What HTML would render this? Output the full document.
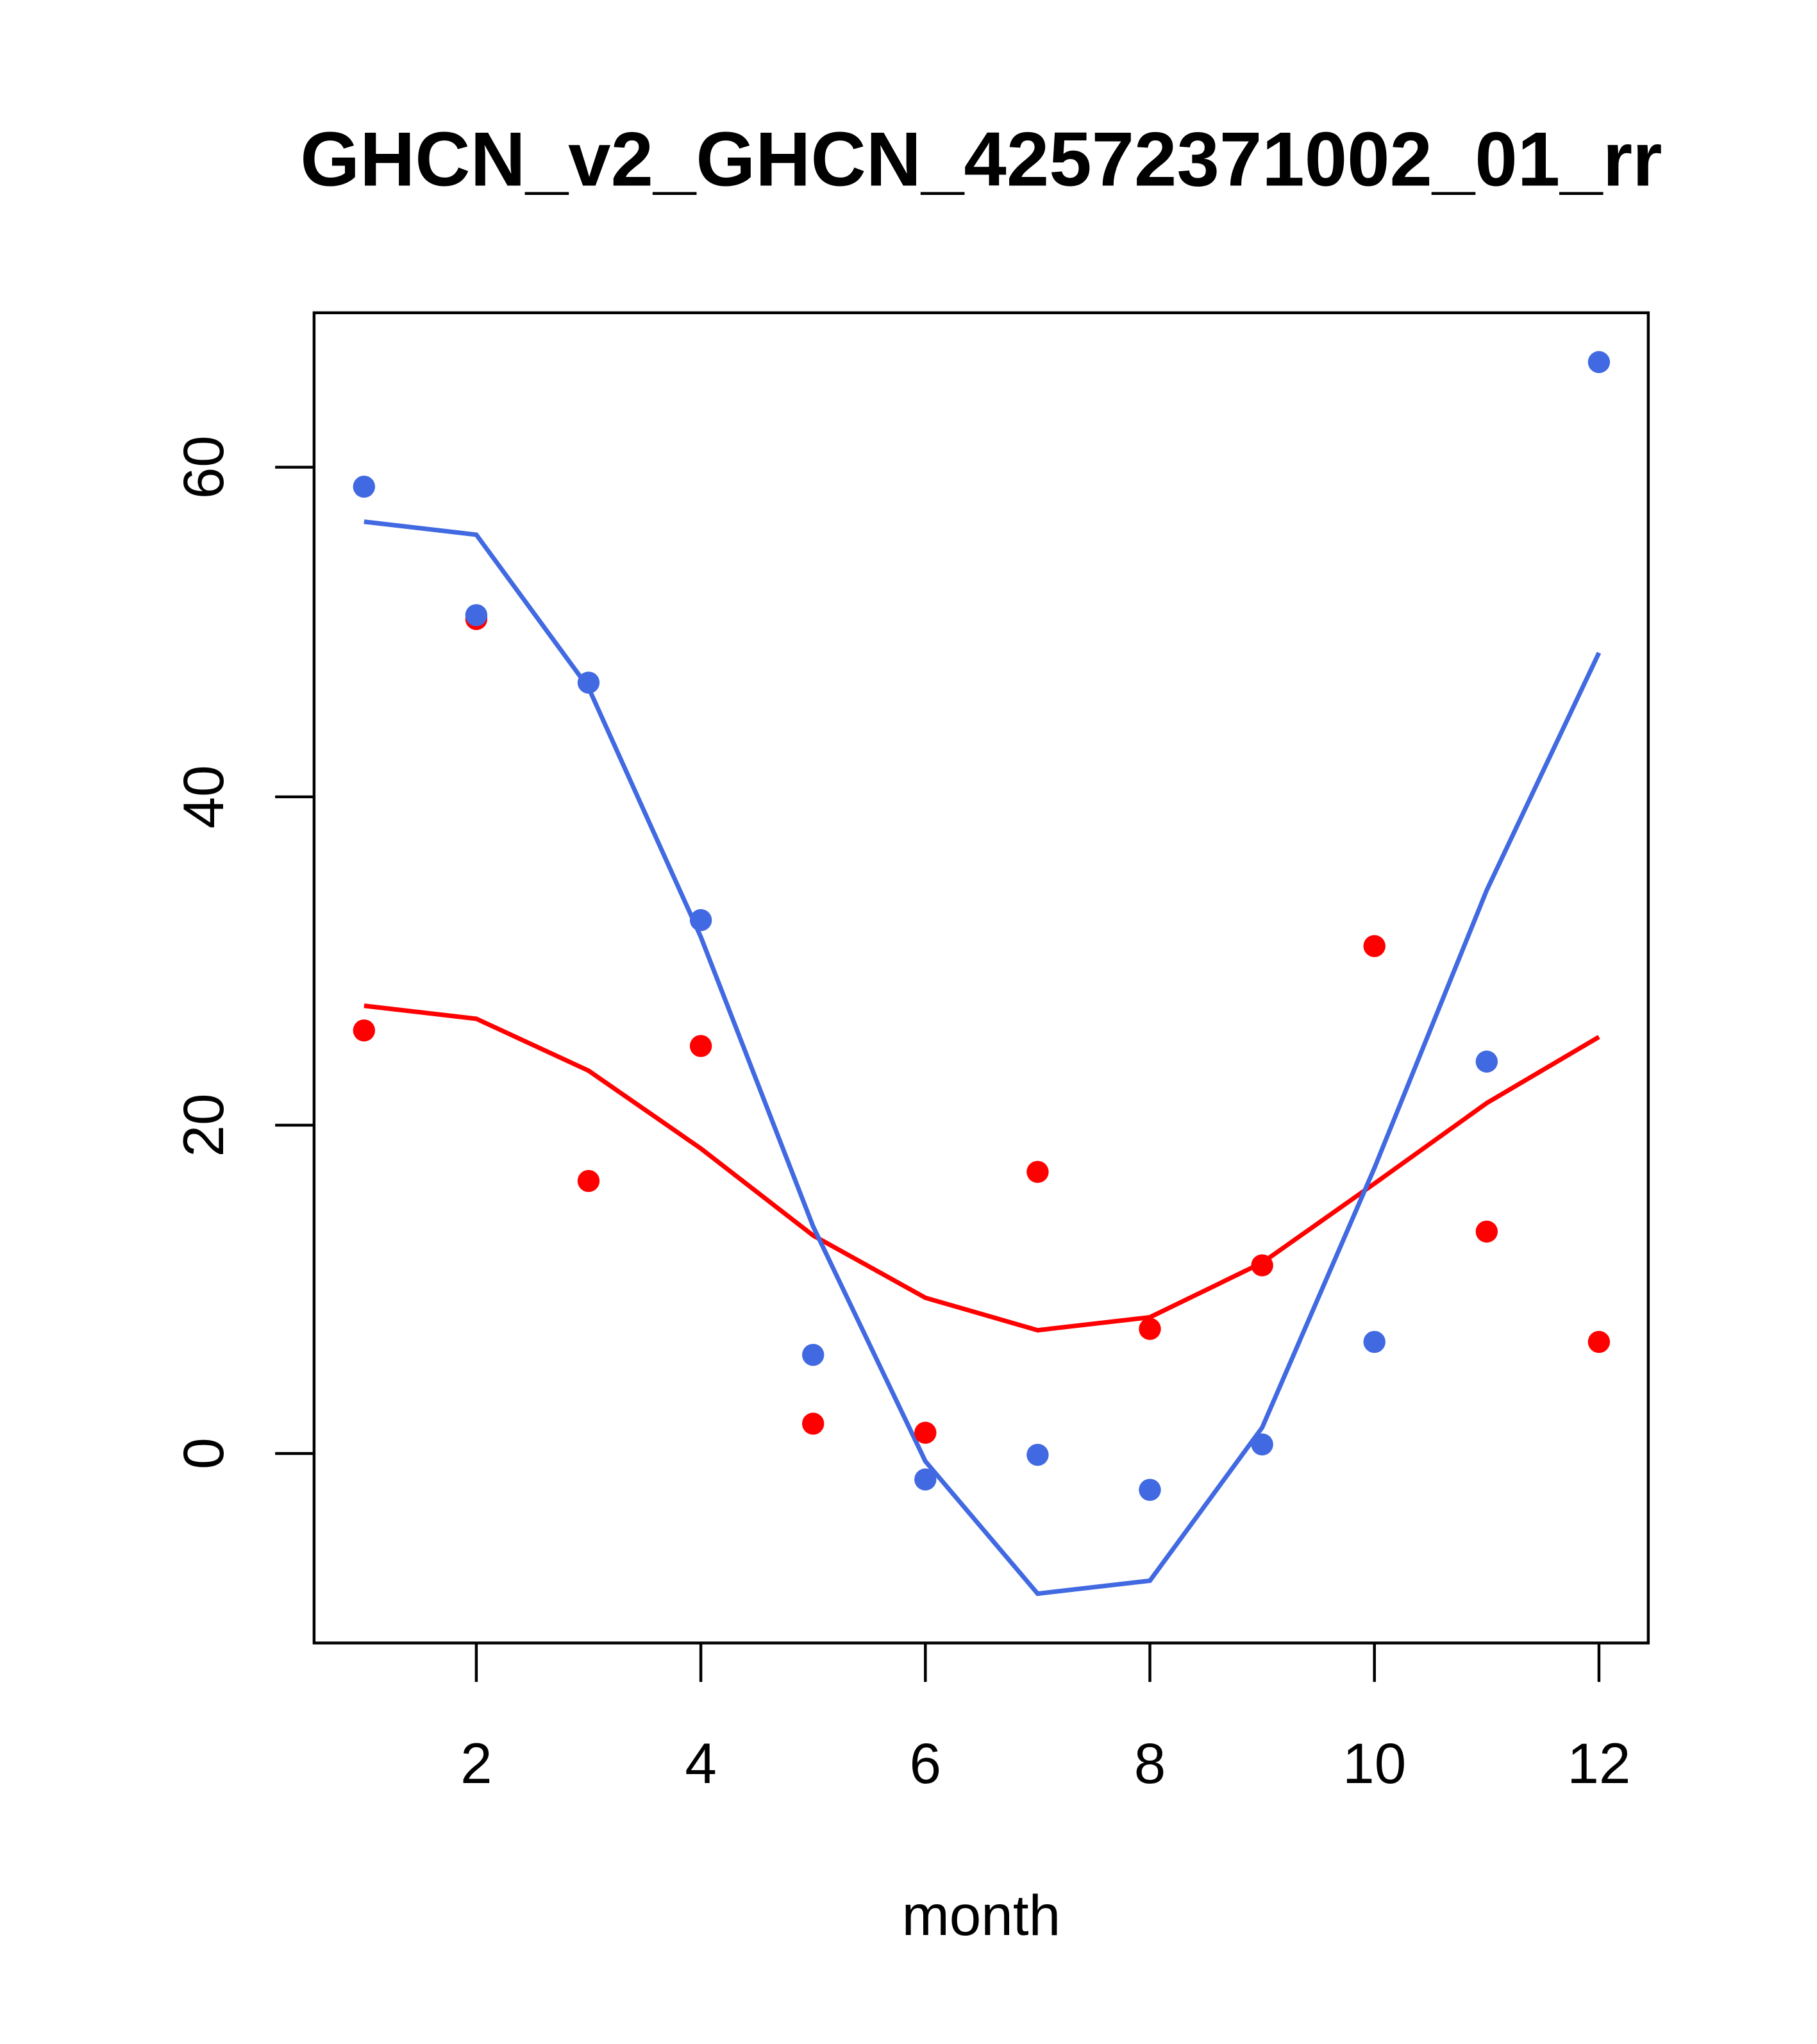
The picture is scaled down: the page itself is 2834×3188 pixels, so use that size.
<!DOCTYPE html>
<html><head><style>html,body{margin:0;padding:0;background:#fff}svg{display:block}</style></head>
<body>
<svg width="2834" height="3188" viewBox="0 0 1400 1575" preserveAspectRatio="none" xmlns="http://www.w3.org/2000/svg" font-family="Liberation Sans, sans-serif">
<rect width="1400" height="1575" fill="#fff"/>
<text x="756" y="143" text-anchor="middle" font-size="59" font-weight="bold">GHCN_v2_GHCN_42572371002_01_rr</text>
<rect x="242" y="241" width="1028" height="1025" fill="none" stroke="#000" stroke-width="2.2"/>
<g stroke="#000" stroke-width="2.2">
<line x1="242" y1="1120" x2="212" y2="1120"/><line x1="242" y1="867" x2="212" y2="867"/><line x1="242" y1="614" x2="212" y2="614"/><line x1="242" y1="360" x2="212" y2="360"/>
<line x1="367" y1="1266" x2="367" y2="1296"/><line x1="540" y1="1266" x2="540" y2="1296"/><line x1="713" y1="1266" x2="713" y2="1296"/><line x1="886" y1="1266" x2="886" y2="1296"/><line x1="1059" y1="1266" x2="1059" y2="1296"/><line x1="1232" y1="1266" x2="1232" y2="1296"/>
</g>
<g font-size="44" text-anchor="middle">
<text transform="translate(172,1120) rotate(-90)">0</text>
<text transform="translate(172,867) rotate(-90)">20</text>
<text transform="translate(172,614) rotate(-90)">40</text>
<text transform="translate(172,360) rotate(-90)">60</text>
<text x="367" y="1374">2</text><text x="540" y="1374">4</text><text x="713" y="1374">6</text><text x="886" y="1374">8</text><text x="1059" y="1374">10</text><text x="1232" y="1374">12</text>
<text x="756" y="1491">month</text>
</g>
<polyline fill="none" stroke="#ff0000" stroke-width="3.5" points="280.5,775 367,785 453.5,825 540,885 626.5,952 713,1000 799.5,1025 886,1015 972.5,973 1059,912 1145.5,850 1232,799"/>
<polyline fill="none" stroke="#4169e1" stroke-width="3.5" points="280.5,402 367,412 453.5,530 540,722 626.5,945 713,1126 799.5,1228 886,1218 972.5,1100 1059,900 1145.5,686 1232,503"/>
<g fill="#ff0000">
<circle cx="280.5" cy="794" r="8.5"/><circle cx="367" cy="477" r="8.5"/><circle cx="453.5" cy="910" r="8.5"/><circle cx="540" cy="806" r="8.5"/><circle cx="626.5" cy="1097" r="8.5"/><circle cx="713" cy="1104" r="8.5"/><circle cx="799.5" cy="903" r="8.5"/><circle cx="886" cy="1024" r="8.5"/><circle cx="972.5" cy="975" r="8.5"/><circle cx="1059" cy="729" r="8.5"/><circle cx="1145.5" cy="949" r="8.5"/><circle cx="1232" cy="1034" r="8.5"/>
</g>
<g fill="#4169e1">
<circle cx="280.5" cy="375" r="8.5"/><circle cx="367" cy="474" r="8.5"/><circle cx="453.5" cy="526" r="8.5"/><circle cx="540" cy="709" r="8.5"/><circle cx="626.5" cy="1044" r="8.5"/><circle cx="713" cy="1140" r="8.5"/><circle cx="799.5" cy="1121" r="8.5"/><circle cx="886" cy="1148" r="8.5"/><circle cx="972.5" cy="1113" r="8.5"/><circle cx="1059" cy="1034" r="8.5"/><circle cx="1145.5" cy="818" r="8.5"/><circle cx="1232" cy="279" r="8.5"/>
</g>
</svg>
</body></html>
